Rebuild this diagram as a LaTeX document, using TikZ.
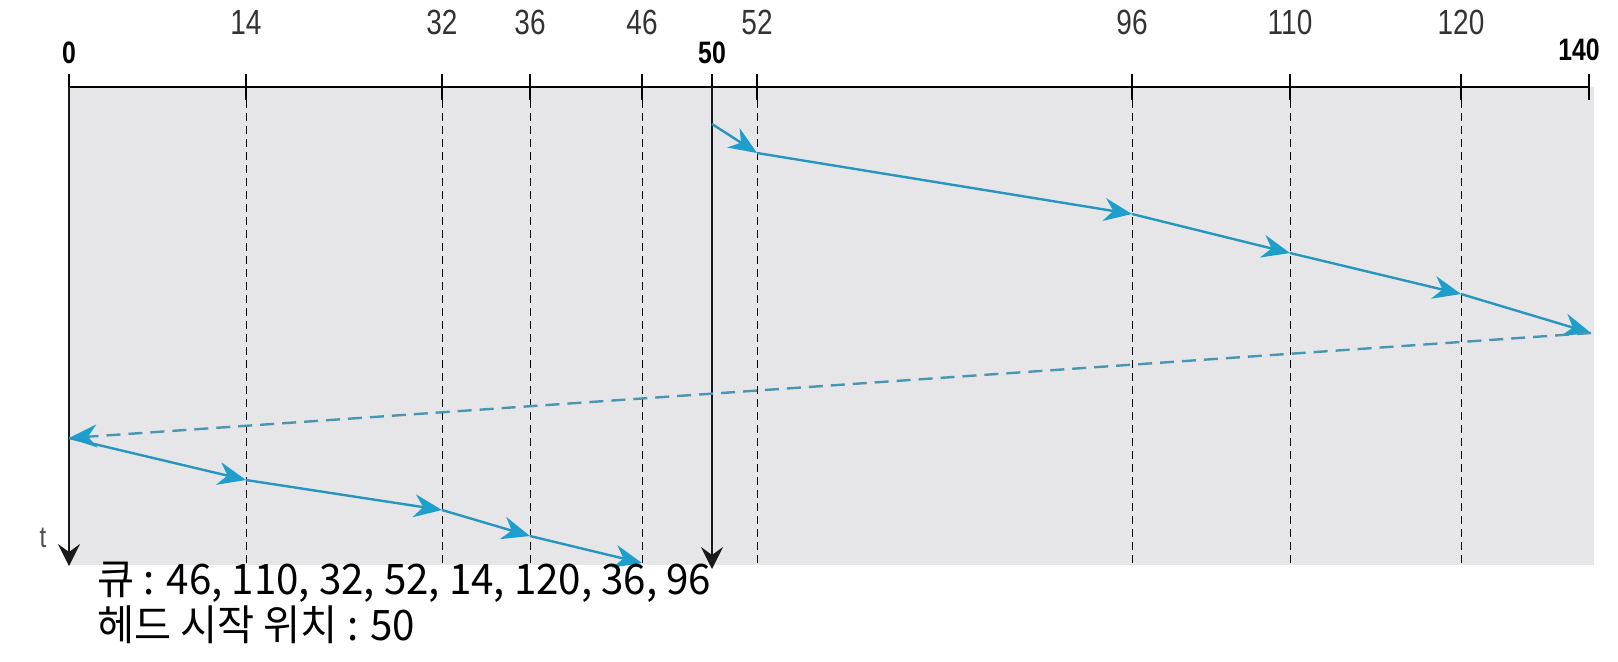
\documentclass[tikz,border=0pt]{standalone}
\usepackage{fontspec}
\setmainfont{Liberation Sans}
\newfontfamily\lblfont[FakeStretch=0.8]{Liberation Sans}
\newfontfamily\krfont[FakeStretch=0.96]{Noto Sans CJK KR}
\usetikzlibrary{arrows.meta}
\definecolor{panel}{RGB}{230,230,232}
\definecolor{seek}{RGB}{38,150,190}
\definecolor{seektip}{RGB}{30,158,203}
\definecolor{seekdash}{RGB}{72,150,178}
\tikzset{
  axisline/.style={line width=1.25pt, black},
  tickmark/.style={line width=1.1pt, black},
  guide/.style={line width=0.5pt, black, dash pattern=on 4pt off 2.5pt},
  timeaxis/.style={line width=1pt, black!90, -{Stealth[length=11pt,width=11pt,inset=4pt]}},
  seekarrow/.style={line width=1.2pt, seek, -{Stealth[length=14pt,width=11.5pt,inset=4.5pt,seektip]}},
  returnarrow/.style={line width=1.2pt, seekdash, dash pattern=on 7pt off 4pt, -{Stealth[length=14pt,width=11.5pt,inset=4.5pt,seektip]}},
  ticklbl/.style={inner sep=0pt, text=black!80, font=\lblfont\fontsize{17.5}{20}\selectfont},
  boldlbl/.style={inner sep=0pt, font=\lblfont\bfseries\fontsize{15.5}{18}\selectfont},
  krtext/.style={inner sep=0pt, anchor=west, font=\krfont\fontsize{21}{25}\selectfont}
}
\begin{document}
\begin{tikzpicture}[x=0.5pt,y=-0.5pt]
\useasboundingbox (0,0) rectangle (1618,661);
\fill[panel] (69,87) rectangle (1594,565);
% cylinder positions
\foreach \v/\x in {0/69,14/246,32/442,36/530,46/642,50/712,52/757,96/1132,110/1290,120/1461,140/1589}{
  \coordinate (a\v) at (\x,87);
  \coordinate (b\v) at (\x,565);
  \coordinate (t\v) at (\x,74);
  \coordinate (u\v) at (\x,100);
}
% dashed guides
\foreach \v in {14,32,36,46,52,96,110,120}{
  \draw[guide] (u\v) -- (b\v);
}
% axis
\draw[axisline] (a0) -- (a140);
\foreach \v in {0,14,32,36,46,50,52,96,110,120,140}{
  \draw[tickmark] (t\v) -- (u\v);
}
% time axes
\coordinate (e0) at (69,566);
\coordinate (e50) at (712,569);
\draw[timeaxis] (a0) -- (e0);
\draw[timeaxis] (a50) -- (e50);
% labels
\node[boldlbl] (l0) at (69,53) {0};
\node[ticklbl] (l14) at (246,22) {14};
\node[ticklbl] (l32) at (442,22) {32};
\node[ticklbl] (l36) at (530,22) {36};
\node[ticklbl] (l46) at (642,22) {46};
\node[boldlbl] (l50) at (712,53) {50};
\node[ticklbl] (l52) at (757,22) {52};
\node[ticklbl] (l96) at (1132,22) {96};
\node[ticklbl] (l110) at (1290,22) {110};
\node[ticklbl] (l120) at (1461,22) {120};
\node[boldlbl] (l140) at (1579,50) {140};
\node[inner sep=0pt, text=black!70, font=\lblfont\fontsize{15}{17}\selectfont] (tl) at (43,538) {t};
% head path
\coordinate (p50) at (712,124);
\coordinate (p52) at (757,153);
\coordinate (p96) at (1132,214);
\coordinate (p110) at (1290,253);
\coordinate (p120) at (1461,294);
\coordinate (p140) at (1591,333);
\coordinate (p0) at (69,438);
\coordinate (p14) at (246,480);
\coordinate (p32) at (442,510);
\coordinate (p36) at (530,536);
\coordinate (p46) at (642,563);
\draw[seekarrow] (p50) -- (p52);
\draw[seekarrow] (p52) -- (p96);
\draw[seekarrow] (p96) -- (p110);
\draw[seekarrow] (p110) -- (p120);
\draw[seekarrow] (p120) -- (p140);
\draw[returnarrow] (p140) -- (p0);
\draw[seekarrow] (p0) -- (p14);
\draw[seekarrow] (p14) -- (p32);
\draw[seekarrow] (p32) -- (p36);
\draw[seekarrow] (p36) -- (p46);
% caption
\node[krtext] (queue) at (97,582) {큐 : 46, 110, 32, 52, 14, 120, 36, 96};
\node[krtext] (head) at (97,625) {헤드 시작 위치 : 50};
\end{tikzpicture}
\end{document}
